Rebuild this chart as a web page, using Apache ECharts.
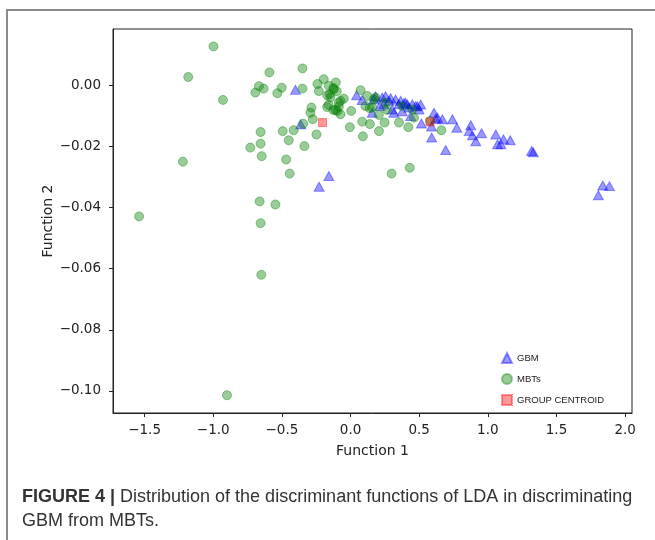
<!DOCTYPE html>
<html>
<head>
<meta charset="utf-8">
<script src="https://cdn.jsdelivr.net/npm/echarts@6/dist/echarts.min.js"></script>
<style>
html,body{margin:0;padding:0;background:#fff;}
#chart{width:655px;height:540px;}
</style>
</head>
<body>
<div id="chart"></div>
<script>
// ---- data ----
const gbmX = [-0.401,-0.363,-0.229,-0.158,0.044,0.085,0.158,0.214,0.170,0.182,0.231,0.243,0.255,0.280,0.292,0.304,0.316,0.328,0.353,0.365,0.377,0.389,0.401,0.414,0.426,0.438,0.450,0.474,0.487,0.499,0.511,0.516,0.608,0.633,0.669,0.591,0.693,0.742,0.774,0.876,0.864,0.888,0.912,0.954,1.058,1.071,1.095,1.114,1.163,1.319,1.331,1.837,1.886,1.805,0.590,0.620];
const gbmY = [-0.0015,-0.0128,-0.0332,-0.0297,-0.0033,-0.0048,-0.0090,-0.0068,-0.0047,-0.0036,-0.0040,-0.0062,-0.0036,-0.0051,-0.0042,-0.0079,-0.0090,-0.0047,-0.0062,-0.0051,-0.0085,-0.0058,-0.0057,-0.0063,-0.0073,-0.0101,-0.0062,-0.0068,-0.0069,-0.0079,-0.0063,-0.0125,-0.0090,-0.0106,-0.0111,-0.0171,-0.0212,-0.0111,-0.0139,-0.0131,-0.0150,-0.0164,-0.0183,-0.0157,-0.0161,-0.0193,-0.0193,-0.0177,-0.0180,-0.0215,-0.0219,-0.0328,-0.0330,-0.0360,-0.0135,-0.0110];

const mbtX = [-0.998,-1.182,-0.929,-0.591,-0.350,-0.667,-0.693,-0.633,-0.533,-0.501,-0.350,-0.241,-0.195,-0.158,-0.107,-0.231,-0.170,-0.146,-0.122,-0.085,-0.049,-0.170,-0.109,-0.073,0.005,-0.285,-0.292,-0.275,-0.345,-0.414,-0.494,-0.450,-0.336,-0.248,-0.655,-0.655,-0.730,-0.647,-0.469,-0.443,-1.221,-1.540,-0.662,-0.547,-0.655,-0.650,-0.900,-0.005,0.085,0.090,0.141,0.073,0.122,0.170,0.109,0.207,0.140,0.248,0.353,0.421,0.579,0.662,0.299,0.431,0.255,0.377,0.450,0.462,0.182,0.158,-0.073,-0.097,-0.151,-0.125,-0.100,-0.160,-0.085,-0.125,0.206,0.265];
const mbtY = [0.0127,0.0027,-0.0048,0.0042,0.0055,-0.0003,-0.0024,-0.0011,-0.0026,-0.0008,-0.0011,0.0004,0.0020,-0.0002,0.0009,-0.0019,-0.0033,-0.0040,-0.0013,-0.0057,-0.0044,-0.0071,-0.0081,-0.0095,-0.0084,-0.0073,-0.0090,-0.0111,-0.0126,-0.0147,-0.0150,-0.0180,-0.0199,-0.0161,-0.0153,-0.0191,-0.0204,-0.0232,-0.0243,-0.0289,-0.0250,-0.0429,-0.0380,-0.0390,-0.0451,-0.0620,-0.1014,-0.0137,-0.0119,-0.0167,-0.0127,-0.0016,-0.0035,-0.0046,-0.0068,-0.0150,-0.0075,-0.0122,-0.0122,-0.0137,-0.0117,-0.0147,-0.0289,-0.0270,-0.0057,-0.0068,-0.0079,-0.0106,-0.0040,-0.0073,-0.0051,-0.0084,-0.0029,-0.0009,-0.0020,-0.0064,-0.0070,-0.0081,-0.0097,-0.0080];

const centroidX = [-0.204, 0.579];
const centroidY = [-0.0122, -0.0120];

const xTicks = [-1.5,-1.0,-0.5,0.0,0.5,1.0,1.5,2.0];
const yTicks = [0.00,-0.02,-0.04,-0.06,-0.08,-0.10];

const seriesNames = ['GBM','MBTs','GROUP CENTROID'];
const captionBold = 'FIGURE 4 |';
const captionLine1 = ' Distribution of the discriminant functions of LDA in discriminating';
const captionLine2 = 'GBM from MBTs.';

// ---- helpers ----
function zip(xs, ys){ return xs.map((x,i)=>[x, ys[i]]); }
function fmt(v, d){ const s = Math.abs(v).toFixed(d); return (v < -1e-12 ? '\u2212' : '') + s; }

const chart = echarts.init(document.getElementById('chart'), null, {renderer:'canvas'});
const axisFont = 'DejaVu Sans';
const option = {
  backgroundColor:'#fff',
  animation:false,
  grid:{left:113, right:23, top:29, bottom:127, show:true, borderColor:'#222', borderWidth:1, backgroundColor:'transparent'},
  xAxis:{
    type:'value', min:-1.73, max:2.05,
    splitLine:{show:false},
    axisLine:{show:true, onZero:false, lineStyle:{color:'#222', width:1}},
    axisTick:{show:true, length:4, lineStyle:{color:'#222'}, customValues:xTicks},
    axisLabel:{customValues:xTicks, formatter:v=>fmt(v,1), fontFamily:axisFont, fontSize:13.5, color:'#222', margin:10},
    name:'Function 1', nameLocation:'middle', nameGap:31, nameMoveOverlap:false,
    nameTextStyle:{fontFamily:axisFont, fontSize:14, color:'#222'}
  },
  yAxis:{
    type:'value', min:-0.1072, max:0.0184,
    splitLine:{show:false},
    axisLine:{show:true, onZero:false, lineStyle:{color:'#222', width:1}},
    axisTick:{show:true, length:4, lineStyle:{color:'#222'}, customValues:yTicks},
    axisLabel:{customValues:yTicks, formatter:v=>fmt(v,2), fontFamily:axisFont, fontSize:13.5, color:'#222', margin:12},
    name:'Function 2', nameLocation:'middle', nameGap:58, nameRotate:90, nameMoveOverlap:false,
    nameTextStyle:{fontFamily:axisFont, fontSize:14, color:'#222'}
  },
  legend:{
    orient:'vertical', left:496, top:347,
    itemWidth:10, itemHeight:10, itemGap:9,
    textStyle:{fontFamily:'Liberation Sans', fontSize:9.5, color:'#222'},
    data:[
      {name:seriesNames[0], icon:'triangle'},
      {name:seriesNames[1], icon:'circle'},
      {name:seriesNames[2], icon:'rect'}
    ]
  },
  series:[
    {name:seriesNames[0], type:'scatter', symbol:'triangle', symbolSize:[10,9],
     itemStyle:{color:'rgba(0,0,255,0.5)', borderColor:'rgba(0,0,255,0.5)', borderWidth:1},
     data:zip(gbmX,gbmY), z:2},
    {name:seriesNames[1], type:'scatter', symbol:'circle', symbolSize:9,
     itemStyle:{color:'rgba(0,128,0,0.5)', borderColor:'rgba(0,128,0,0.5)', borderWidth:1},
     data:zip(mbtX,mbtY), z:3},
    {name:seriesNames[2], type:'scatter', symbol:'rect', symbolSize:8,
     itemStyle:{color:'rgba(255,0,0,0.5)', borderColor:'rgba(255,0,0,0.5)', borderWidth:1},
     data:zip(centroidX,centroidY), z:4}
  ],
  graphic:[
    {type:'rect', shape:{x:7, y:10, width:700, height:600}, style:{fill:'none', stroke:'#8a8a8a', lineWidth:2}, silent:true},
    {type:'text', left:22, top:488, style:{
      text:'{b|'+captionBold+'}{n|'+captionLine1+'}',
      rich:{
        b:{fontFamily:'Liberation Sans', fontWeight:'bold', fontSize:18, fill:'#333'},
        n:{fontFamily:'Liberation Sans', fontSize:18, fill:'#333'}
      }
    }},
    {type:'text', left:22, top:512, style:{text:captionLine2, fontFamily:'Liberation Sans', fontSize:18, fill:'#333'}}
  ]
};
chart.setOption(option);
</script>
</body>
</html>
